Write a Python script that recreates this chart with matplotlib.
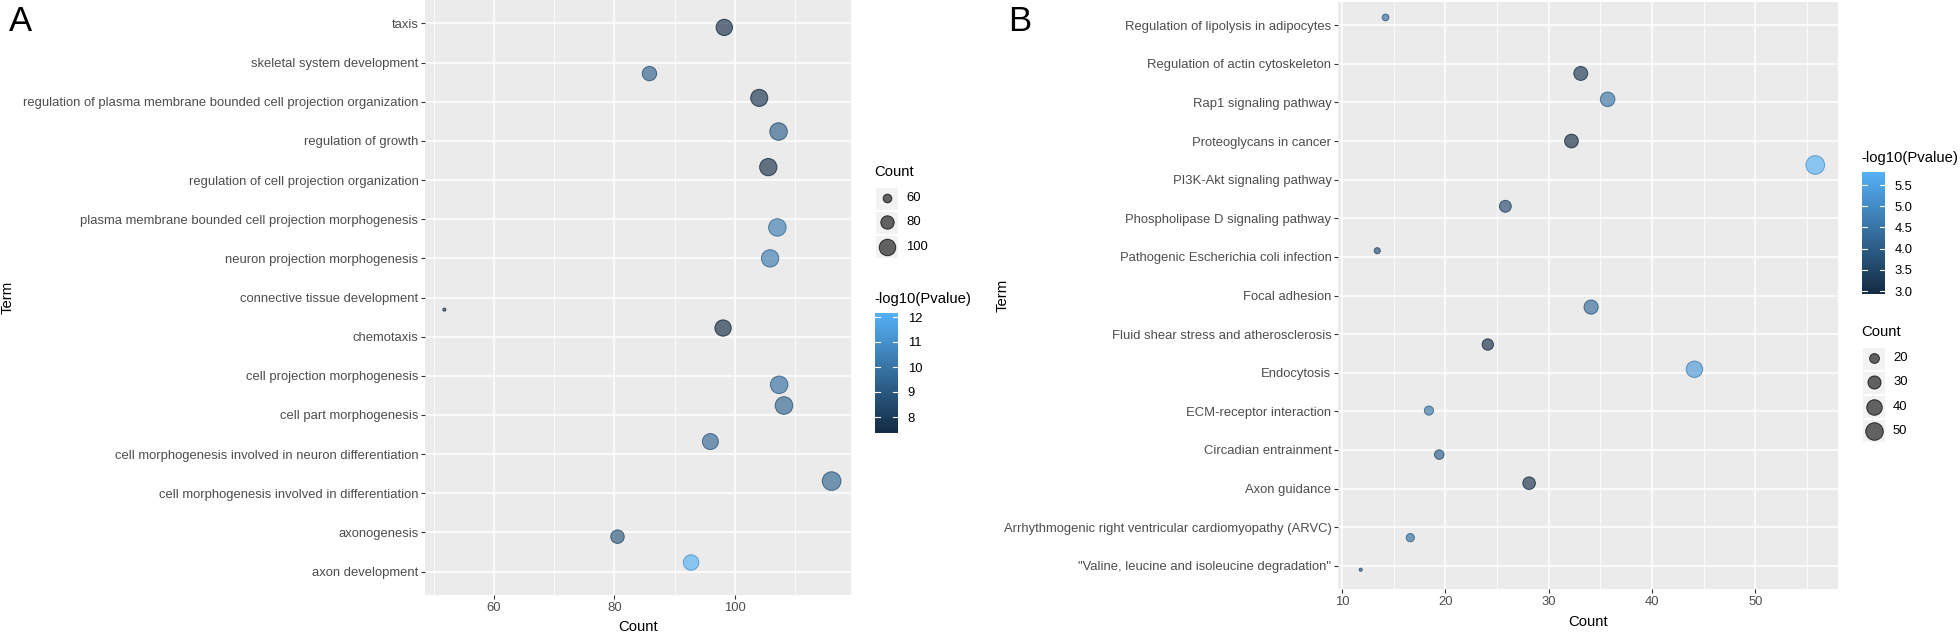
import numpy as np
import matplotlib.pyplot as plt
from matplotlib.colors import LinearSegmentedColormap, Normalize
from matplotlib.patches import Rectangle

plt.rcParams["font.family"] = ["Liberation Sans", "DejaVu Sans"]

W, H, DPI = 1960, 634, 100

# panel A (listed top to bottom)
terms_a = ["taxis", "skeletal system development",
           "regulation of plasma membrane bounded cell projection organization",
           "regulation of growth", "regulation of cell projection organization",
           "plasma membrane bounded cell projection morphogenesis",
           "neuron projection morphogenesis", "connective tissue development",
           "chemotaxis", "cell projection morphogenesis", "cell part morphogenesis",
           "cell morphogenesis involved in neuron differentiation",
           "cell morphogenesis involved in differentiation", "axonogenesis",
           "axon development"]
count_a = [98.2, 85.8, 104.0, 107.2, 105.5, 107.0, 105.8, 51.8, 98.0, 107.3,
           108.1, 95.9, 116.0, 80.5, 92.7]
jitter_a = [-0.10, -0.28, 0.10, 0.24, 0.33, -0.21, 0.0, -0.31, 0.22, -0.23,
            0.24, 0.32, 0.31, -0.11, 0.23]
logp_a = [7.5, 9.3, 7.6, 9.2, 7.5, 10.3, 10.2, 8.0, 7.36, 9.8, 9.4, 9.5, 9.4,
          8.9, 12.16]

# panel B (listed top to bottom)
terms_b = ["Regulation of lipolysis in adipocytes", "Regulation of actin cytoskeleton",
           "Rap1 signaling pathway", "Proteoglycans in cancer",
           "PI3K-Akt signaling pathway", "Phospholipase D signaling pathway",
           "Pathogenic Escherichia coli infection", "Focal adhesion",
           "Fluid shear stress and atherosclerosis", "Endocytosis",
           "ECM-receptor interaction", "Circadian entrainment", "Axon guidance",
           "Arrhythmogenic right ventricular cardiomyopathy (ARVC)",
           "\"Valine, leucine and isoleucine degradation\""]
count_b = [14.2, 33.1, 35.7, 32.2, 55.8, 25.8, 13.4, 34.1, 24.1, 44.1, 18.4,
           19.4, 28.1, 16.6, 11.8]
jitter_b = [0.20, -0.25, 0.08, 0.0, 0.38, 0.31, 0.16, -0.30, -0.27, 0.09, 0.02,
            -0.12, 0.14, -0.27, -0.10]
logp_b = [4.3, 3.2, 4.5, 2.93, 5.81, 3.6, 3.7, 4.3, 3.0, 5.3, 4.5, 4.0, 3.1,
          4.4, 4.0]

size_breaks_a = [60, 80, 100]
size_breaks_b = [20, 30, 40, 50]
cbar_ticks_a = [8, 9, 10, 11, 12]
cbar_ticks_b = [3.0, 3.5, 4.0, 4.5, 5.0, 5.5]

cmap = LinearSegmentedColormap.from_list("gg", ["#132B43", "#56B1F7"])
ALPHA = 0.65
TXT = 9.4
TITLE = 10.7


def diam(c, cmin, cmax):
    # ggplot-like area scaling, diameter in px
    return 3.1 * (1 + 5 * np.sqrt((np.asarray(c, float) - cmin) / (cmax - cmin)))


def area(d):
    return (d * 72 / DPI) ** 2


fig = plt.figure(figsize=(W / DPI, H / DPI), dpi=DPI)


def px_axes(x0, y0, x1, y1):
    return fig.add_axes([x0 / W, 1 - y1 / H, (x1 - x0) / W, (y1 - y0) / H])


def panel(ax, terms, counts, jit, logp, major, minor):
    n = len(terms)
    ypos = n - np.arange(n)
    cmin, cmax = min(counts), max(counts)
    pad = 0.05 * (cmax - cmin)
    norm = Normalize(min(logp), max(logp))
    cols = cmap(norm(logp))
    face = cols.copy()
    face[:, 3] = ALPHA
    edge = cols.copy()
    edge[:, :3] *= 0.8
    edge[:, 3] = 0.8
    ax.set_facecolor("#EBEBEB")
    ax.scatter(counts, ypos + np.array(jit), s=area(diam(counts, cmin, cmax)),
               c=face, edgecolors=edge, linewidths=0.7, zorder=3)
    ax.set_xlim(cmin - pad, cmax + pad)
    ax.set_ylim(0.4, n + 0.6)
    ax.set_yticks(ypos)
    ax.set_yticklabels(terms)
    ax.set_xticks(major)
    ax.set_xticks(minor, minor=True)
    ax.grid(which="major", color="white", lw=1.1)
    ax.grid(which="minor", color="white", lw=0.55)
    ax.set_axisbelow(True)
    for sp in ax.spines.values():
        sp.set_visible(False)
    ax.tick_params(which="major", length=2.7, width=0.8, color="#333333",
                   labelsize=TXT, labelcolor="#4D4D4D", pad=2)
    ax.tick_params(which="minor", length=0)
    return cmin, cmax, norm


def size_legend(ov, x, y, breaks, cmin, cmax):
    ov.text(x, y, "Count", fontsize=TITLE, va="center", ha="left")
    for i, b in enumerate(breaks):
        yc = y + 26 + i * 24.3
        ov.add_patch(Rectangle((x + 1, yc - 11.5), 23, 23, facecolor="#F2F2F2",
                               edgecolor="white", lw=0.8))
        ov.scatter(x + 12.5, yc, s=area(diam(b, cmin, cmax)), facecolor=(0, 0, 0, 0.6),
                   edgecolors=(0, 0, 0, 0.75), linewidths=0.7, zorder=3)
        ov.text(x + 32, yc, str(b), fontsize=TXT, va="center", ha="left")


def colorbar(x, y0, y1, title_y, norm, ticks, fmt):
    fig.text(x / W, 1 - title_y / H, "-log10(Pvalue)", fontsize=TITLE, va="center", ha="left")
    cax = px_axes(x + 1, y0, x + 24, y1)
    grad = np.linspace(norm.vmin, norm.vmax, 256)[:, None]
    cax.imshow(grad, aspect="auto", cmap=cmap, origin="lower",
               extent=(0, 1, norm.vmin, norm.vmax))
    cax.set_xlim(0, 1)
    cax.set_ylim(norm.vmin, norm.vmax)
    for t in ticks:
        cax.plot([0, 0.2], [t, t], color="white", lw=0.8)
        cax.plot([0.8, 1], [t, t], color="white", lw=0.8)
    cax.set_xticks([])
    cax.set_yticks(ticks)
    cax.set_yticklabels([fmt.format(t) for t in ticks])
    cax.yaxis.tick_right()
    cax.tick_params(axis="y", length=0, pad=7, labelsize=TXT)
    for sp in cax.spines.values():
        sp.set_visible(False)


ax_a = px_axes(425, 0, 851, 595)
ca_min, ca_max, norm_a = panel(ax_a, terms_a, count_a, jitter_a, logp_a,
                               [60, 80, 100], [50, 70, 90, 110])
ax_b = px_axes(1338, 2, 1838, 589)
cb_min, cb_max, norm_b = panel(ax_b, terms_b, count_b, jitter_b, logp_b,
                               [10, 20, 30, 40, 50], [15, 25, 35, 45, 55])

fig.text(638 / W, 1 - 627 / H, "Count", fontsize=TITLE, ha="center", va="center")
fig.text(1588 / W, 1 - 622 / H, "Count", fontsize=TITLE, ha="center", va="center")
fig.text(8 / W, 1 - 297 / H, "Term", fontsize=TITLE, rotation=90, ha="center", va="center")
fig.text(1003 / W, 1 - 295 / H, "Term", fontsize=TITLE, rotation=90, ha="center", va="center")
fig.text(9 / W, 1 - 31 / H, "A", fontsize=25, ha="left", va="baseline")
fig.text(1008 / W, 1 - 31 / H, "B", fontsize=25, ha="left", va="baseline")

colorbar(874, 313, 433, 299, norm_a, cbar_ticks_a, "{:d}")
colorbar(1861, 172, 294, 158, norm_b, cbar_ticks_b, "{:.1f}")

ov = fig.add_axes([0, 0, 1, 1], zorder=5)
ov.set_xlim(0, W)
ov.set_ylim(H, 0)
ov.axis("off")
size_legend(ov, 874, 172, size_breaks_a, ca_min, ca_max)
size_legend(ov, 1861, 332, size_breaks_b, cb_min, cb_max)

fig.savefig("out.png", dpi=DPI)
